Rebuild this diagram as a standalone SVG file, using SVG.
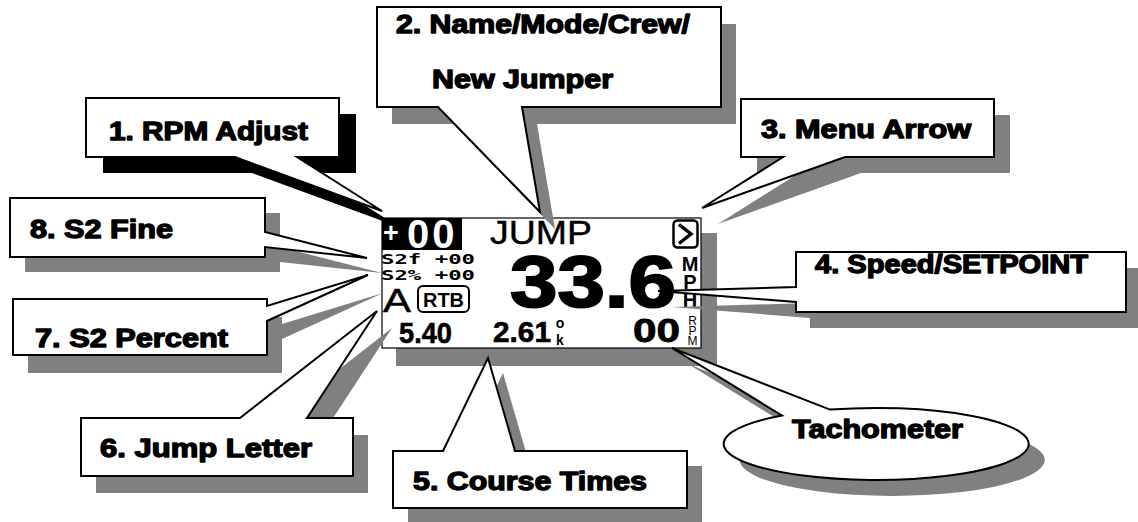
<svg xmlns="http://www.w3.org/2000/svg" width="1138" height="522" viewBox="0 0 1138 522">
<style>
.bg{fill:#fff}
.sh{fill:#808080}
.shk{fill:#000}
.co{fill:#fff;stroke:#000;stroke-width:2;stroke-linejoin:miter}
.lbl{font-family:"Liberation Sans",Arial,sans-serif;font-weight:bold;font-size:25px;fill:#000;stroke:#000;stroke-width:1.3;stroke-linejoin:round}
.lcd{font-family:"Liberation Sans",Arial,sans-serif;fill:#000}
.b{font-weight:bold}
.mono{font-family:"DejaVu Sans Mono","Liberation Mono",monospace;fill:#000}
</style>
<rect class="bg" x="0" y="0" width="1138" height="522"/>

<g id="screen">
  <rect class="sh" x="396" y="233" width="321" height="133"/>
  <rect x="382" y="218" width="319" height="130" fill="#fff" stroke="#000" stroke-width="1.2"/>
  <rect x="382" y="218" width="80" height="32" fill="#000"/>
  <text class="lcd b" x="383" y="248" style="fill:#fff"><tspan font-size="27" dy="-6">+</tspan><tspan x="407" dy="6" font-size="40" letter-spacing="3">00</tspan></text>
  <text class="lcd" x="490" y="244" font-size="33" textLength="102" lengthAdjust="spacingAndGlyphs" stroke="#000" stroke-width="0.4">JUMP</text>
  <rect x="673.5" y="220.5" width="24" height="27" rx="4" fill="none" stroke="#000" stroke-width="2.5"/>
  <polyline points="679,224.5 691,234 679,243.5" fill="none" stroke="#000" stroke-width="3.5"/>
  <text class="mono b" x="381" y="264" font-size="14" textLength="94" lengthAdjust="spacingAndGlyphs">S2f +00</text>
  <text class="mono b" x="381" y="280" font-size="14" textLength="94" lengthAdjust="spacingAndGlyphs">S2% +00</text>
  <text class="lcd" x="383" y="312" font-size="34" textLength="28" lengthAdjust="spacingAndGlyphs" stroke="#000" stroke-width="0.5">A</text>
  <rect x="418" y="286" width="51" height="26" rx="5" fill="none" stroke="#000" stroke-width="2"/>
  <text class="lcd b" x="423" y="307" font-size="21" textLength="41" lengthAdjust="spacingAndGlyphs">RTB</text>
  <text class="lcd b" x="510" y="307" font-size="72" textLength="166" lengthAdjust="spacingAndGlyphs" stroke="#000" stroke-width="2">33.6</text>
  <text class="lcd b" font-size="20" text-anchor="middle"><tspan x="690" y="271">M</tspan><tspan x="690" y="289">P</tspan><tspan x="690" y="307">H</tspan></text>
  <text class="lcd b" x="399" y="343" font-size="29" textLength="53" lengthAdjust="spacingAndGlyphs" stroke="#000" stroke-width="0.6">5.40</text>
  <text class="lcd b" x="493" y="342" font-size="29" textLength="58" lengthAdjust="spacingAndGlyphs" stroke="#000" stroke-width="0.6">2.61</text>
  <text class="lcd b" font-size="14" text-anchor="middle"><tspan x="560" y="328">o</tspan><tspan x="560" y="345">k</tspan></text>
  <text class="lcd b" x="633" y="342" font-size="33" textLength="47" lengthAdjust="spacingAndGlyphs" stroke="#000" stroke-width="0.8">00</text>
  <text class="lcd" font-size="12" text-anchor="middle"><tspan x="692.5" y="325">R</tspan><tspan x="692.5" y="335">P</tspan><tspan x="692.5" y="345">M</tspan></text>
</g>

<g id="callout1">
  <polygon class="shk" transform="translate(17,16)" points="86,98 339,98 339,157 297,157 382,211 235,157 86,157"/>
  <polygon class="co" points="86,98 339,98 339,157 297,157 382,211 235,157 86,157"/>
  <text class="lbl" x="109" y="140" textLength="199" lengthAdjust="spacingAndGlyphs">1. RPM Adjust</text>
</g>

<g id="callout2">
  <polygon class="sh" transform="translate(15,17)" points="377,7 721,7 721,107 522,107 540,212 438,107 377,107"/>
  <polygon class="co" points="377,7 721,7 721,107 522,107 540,212 438,107 377,107"/>
  <text class="lbl" x="396" y="33" textLength="294" lengthAdjust="spacingAndGlyphs">2. Name/Mode/Crew/</text>
  <text class="lbl" x="432" y="88" textLength="181" lengthAdjust="spacingAndGlyphs">New Jumper</text>
</g>

<g id="callout3">
  <polygon class="sh" transform="translate(16,16)" points="741,99 994,99 994,157 845,157 702,208 783,157 741,157"/>
  <polygon class="co" points="741,99 994,99 994,157 845,157 702,208 783,157 741,157"/>
  <text class="lbl" x="761" y="138" textLength="210" lengthAdjust="spacingAndGlyphs">3. Menu Arrow</text>
</g>

<g id="callout4">
  <polygon class="sh" transform="translate(14,16)" points="796,252 1126,252 1126,312 796,312 796,302 658,291 796,287"/>
  <polygon class="co" points="796,252 1126,252 1126,312 796,312 796,302 658,291 796,287"/>
  <text class="lbl" x="815" y="273" textLength="273" lengthAdjust="spacingAndGlyphs">4. Speed/SETPOINT</text>
</g>

<g id="callout5">
  <polygon class="sh" transform="translate(15,15)" points="393,451 443,451 488,358 515,451 687,451 687,508 393,508"/>
  <polygon class="co" points="393,451 443,451 488,358 515,451 687,451 687,508 393,508"/>
  <text class="lbl" x="413" y="490" textLength="234" lengthAdjust="spacingAndGlyphs">5. Course Times</text>
</g>

<g id="callout6">
  <polygon class="sh" transform="translate(15,17)" points="81,418 240,418 377,311 307,418 353,418 353,476 81,476"/>
  <polygon class="co" points="81,418 240,418 377,311 307,418 353,418 353,476 81,476"/>
  <text class="lbl" x="100" y="457" textLength="212" lengthAdjust="spacingAndGlyphs">6. Jump Letter</text>
</g>

<g id="callout7">
  <polygon class="sh" transform="translate(15,18)" points="13,299 267,299 267,306 368,275 267,321 267,355 13,355"/>
  <polygon class="co" points="13,299 267,299 267,306 368,275 267,321 267,355 13,355"/>
  <text class="lbl" x="35" y="347" textLength="193" lengthAdjust="spacingAndGlyphs">7. S2 Percent</text>
</g>

<g id="callout8">
  <polygon class="sh" transform="translate(15,15)" points="10,198 265,198 265,232 367,258 265,247 265,257 10,257"/>
  <polygon class="co" points="10,198 265,198 265,232 367,258 265,247 265,257 10,257"/>
  <text class="lbl" x="30" y="238" textLength="143" lengthAdjust="spacingAndGlyphs">8. S2 Fine</text>
</g>

<g id="tachometer">
  <path class="sh" transform="translate(16,16)" d="M830,409.6 A152.5,36 0 1 1 782,415.6 L672,348 Z"/>
  <path class="co" d="M830,409.6 A152.5,36 0 1 1 782,415.6 L672,348 Z"/>
  <text class="lbl" x="792" y="438" textLength="171" lengthAdjust="spacingAndGlyphs">Tachometer</text>
</g>
</svg>
